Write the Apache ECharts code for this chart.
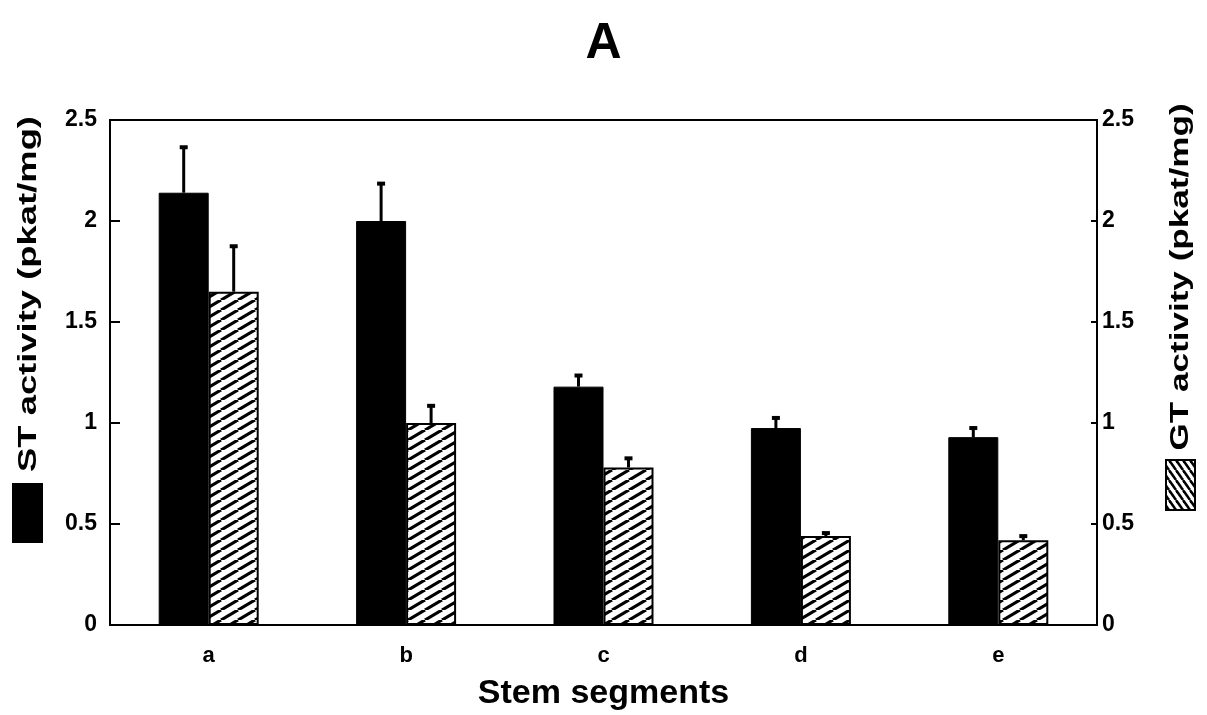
<!DOCTYPE html>
<html>
<head>
<meta charset="utf-8">
<script src="https://cdn.jsdelivr.net/npm/echarts@6/dist/echarts.min.js"></script>
<style>
  html, body { margin: 0; padding: 0; background: #fff; }
  #chart { width: 1207px; height: 715px; }
</style>
</head>
<body>
<div id="chart"></div>
<script>
// values
const categories = ['a', 'b', 'c', 'd', 'e']
const stValues = [2.14, 2.00, 1.18, 0.975, 0.93]
const stErrTop = [2.37, 2.19, 1.24, 1.03, 0.98]
const gtValues = [1.65, 1.00, 0.78, 0.44, 0.42]
const gtErrTop = [1.88, 1.09, 0.83, 0.46, 0.445]
const yMin = 0
const yMax = 2.5
const yStep = 0.5

const FONT = '"Liberation Sans", Arial, sans-serif'

// diagonal hatch for the GT bars
const makeHatch = (w, h, rising, lw) => {
  const c = document.createElement('canvas')
  c.width = w
  c.height = h
  const ctx = c.getContext('2d')
  ctx.fillStyle = '#fff'
  ctx.fillRect(0, 0, w, h)
  ctx.strokeStyle = '#000'
  ctx.lineWidth = lw
  for (let k = -1; k <= 1; k++) {
    ctx.beginPath()
    if (rising) {
      ctx.moveTo(k * w, h)
      ctx.lineTo(k * w + w, 0)
    } else {
      ctx.moveTo(k * w, 0)
      ctx.lineTo(k * w + w, h)
    }
    ctx.stroke()
  }
  return c
}

const barHatch = makeHatch(17, 10, true, 3.2)
const legendHatch = makeHatch(7, 10, false, 2.5)

const errorSeries = (name, values, tops, axisIndex, offset) => ({
  name: name,
  type: 'custom',
  yAxisIndex: axisIndex,
  z: 5,
  data: values.map((v, i) => [i, v, tops[i]]),
  encode: { x: 0, y: 1 },
  renderItem: (params, api) => {
    const base = api.coord([api.value(0), api.value(1)])
    const top = api.coord([api.value(0), api.value(2)])
    const x = base[0] + offset
    return {
      type: 'group',
      children: [
        {
          type: 'line',
          shape: { x1: x, y1: base[1], x2: x, y2: top[1] },
          style: { stroke: '#000', lineWidth: 3 }
        },
        {
          type: 'line',
          shape: { x1: x - 4, y1: top[1] + 1, x2: x + 4, y2: top[1] + 1 },
          style: { stroke: '#000', lineWidth: 4 }
        }
      ]
    }
  }
})

const yAxisBase = (pos, tickLen, margin) => ({
  type: 'value',
  position: pos,
  min: yMin,
  max: yMax,
  interval: yStep,
  axisLine: { show: true, lineStyle: { color: '#000', width: 2 } },
  axisTick: { show: true, inside: true, length: tickLen, lineStyle: { color: '#000', width: 2 } },
  axisLabel: {
    color: '#000',
    fontFamily: FONT,
    fontWeight: 'bold',
    fontSize: 23,
    margin: margin
  },
  splitLine: { show: false }
})

const chart = echarts.init(document.getElementById('chart'))

chart.setOption({
  backgroundColor: '#fff',
  animation: false,
  title: {
    text: 'A',
    left: 'center',
    top: 14,
    textStyle: { fontFamily: FONT, fontWeight: 'bold', fontSize: 50, color: '#000' }
  },
  grid: {
    left: 110,
    right: 110,
    top: 120,
    bottom: 90,
    outerBoundsMode: 'none',
    show: true,
    borderColor: '#000',
    borderWidth: 2
  },
  xAxis: {
    type: 'category',
    data: categories,
    name: 'Stem segments',
    nameLocation: 'middle',
    nameGap: 52,
    nameTextStyle: { fontFamily: FONT, fontWeight: 'bold', fontSize: 34, color: '#000' },
    axisLine: { show: true, lineStyle: { color: '#000', width: 2 } },
    axisTick: { show: false },
    axisLabel: { color: '#000', fontFamily: FONT, fontWeight: 'bold', fontSize: 22, margin: 20 }
  },
  yAxis: [
    yAxisBase('left', 10, 13),
    yAxisBase('right', 6, 5)
  ],
  series: [
    {
      name: 'ST activity',
      type: 'bar',
      yAxisIndex: 0,
      barWidth: 50,
      barGap: '0%',
      data: stValues,
      itemStyle: { color: '#000', borderColor: '#000', borderWidth: 1 }
    },
    {
      name: 'GT activity',
      type: 'bar',
      yAxisIndex: 1,
      barWidth: 50,
      barGap: '0%',
      data: gtValues,
      itemStyle: {
        color: { image: barHatch, repeat: 'repeat' },
        borderColor: '#000',
        borderWidth: 2
      }
    },
    errorSeries('ST error', stValues, stErrTop, 0, -25),
    errorSeries('GT error', gtValues, gtErrTop, 1, 25)
  ],
  graphic: [
    {
      type: 'text',
      x: 29,
      y: 294,
      rotation: Math.PI / 2,
      scaleX: 1.4,
      style: {
        text: 'ST activity (pkat/mg)',
        font: 'bold 26px ' + FONT,
        fill: '#000',
        align: 'center',
        verticalAlign: 'middle'
      }
    },
    {
      type: 'rect',
      shape: { x: 12, y: 483, width: 31, height: 60 },
      style: { fill: '#000' }
    },
    {
      type: 'text',
      x: 1181,
      y: 277,
      rotation: Math.PI / 2,
      scaleX: 1.35,
      style: {
        text: 'GT activity (pkat/mg)',
        font: 'bold 26px ' + FONT,
        fill: '#000',
        align: 'center',
        verticalAlign: 'middle'
      }
    },
    {
      type: 'rect',
      shape: { x: 1166, y: 460, width: 29, height: 50 },
      style: { fill: { image: legendHatch, repeat: 'repeat' }, stroke: '#000', lineWidth: 2 }
    }
  ]
})
</script>
</body>
</html>
